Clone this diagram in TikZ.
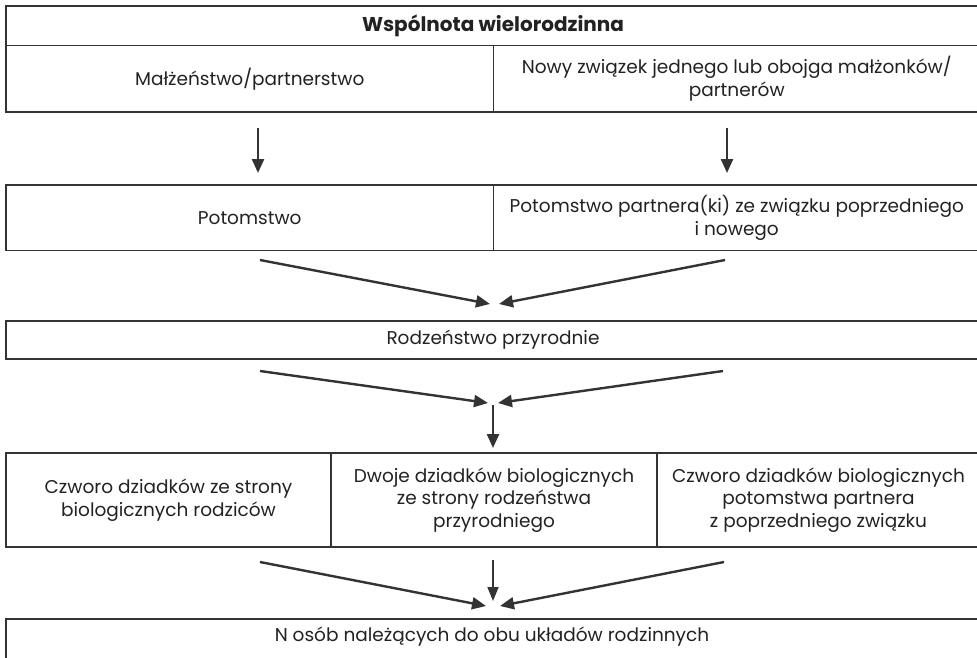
\documentclass[tikz,border=0pt]{standalone}
\usepackage{fontspec}
\setmainfont{Poppins}
\usetikzlibrary{arrows.meta}
\definecolor{linec}{HTML}{333333}
\definecolor{textc}{HTML}{222222}
\tikzset{
  cell/.style={draw=linec, line width=1.2pt, text=textc, align=center, inner sep=0pt,
    font=\fontsize{18.5}{22.8}\selectfont},
  arr/.style={draw=linec, line width=2.4pt, -{Triangle[length=14pt,width=12pt]}},
  arrthin/.style={draw=linec, line width=1.8pt, -{Triangle[length=14pt,width=11pt]}},
}
\newcommand{\cellbox}[6]{% name, x1, y1, x2, y2, text
  \node[cell, minimum width={#4-#2}, minimum height={#5-#3}] (#1) at ({(#2+#4)/2},{(#3+#5)/2}) {#6};}
\begin{document}
\begin{tikzpicture}[x=1pt,y=-1pt]
\useasboundingbox (0,0) rectangle (977,658);
\clip (0,0) rectangle (977,658);
\fill[white] (0,0) rectangle (977,658);
% row 1
\cellbox{title}{6}{6}{980}{45.5}{\fontsize{20}{22}\selectfont\textbf{Wspólnota wielorodzinna}}
% row 2
\cellbox{marr}{6}{45.5}{493.5}{112}{Małżeństwo/partnerstwo}
\cellbox{nowy}{493.5}{45.5}{980}{112}{Nowy związek jednego lub obojga małżonków/\\partnerów}
% row 3
\cellbox{pot}{6}{185}{493.5}{250.5}{Potomstwo}
\cellbox{potp}{493.5}{185}{980}{250.5}{Potomstwo partnera(ki) ze związku poprzedniego\\i nowego}
% row 4
\cellbox{rodz}{6}{321}{980}{359}{Rodzeństwo przyrodnie}
% row 5
\cellbox{dz1}{6}{453}{331}{547}{Czworo dziadków ze strony\\biologicznych rodziców}
\cellbox{dz2}{331}{453}{657}{547}{Dwoje dziadków biologicznych\\ze strony rodzeństwa\\przyrodniego}
\cellbox{dz3}{657}{453}{980}{547}{Czworo dziadków biologicznych\\potomstwa partnera\\z poprzedniego związku}
% row 6
\cellbox{nos}{6}{619}{980}{672}{}
\node[text=textc, font=\fontsize{18.5}{22.5}\selectfont] (nostext) at (492,637) {N osób należących do obu układów rodzinnych};
% arrow coordinates
\coordinate (a1s) at (258,128);
\coordinate (a1e) at (258,173);
\coordinate (a2s) at (727,128);
\coordinate (a2e) at (727,173);
\coordinate (b1s) at (260,260);
\coordinate (b1e) at (490,304);
\coordinate (b2s) at (725,260);
\coordinate (b2e) at (499,304);
\coordinate (c1s) at (260,371);
\coordinate (c1e) at (488,403);
\coordinate (c2s) at (723,371);
\coordinate (c2e) at (498,403);
\coordinate (c3s) at (493,405);
\coordinate (c3e) at (493,448);
\coordinate (d1s) at (260,562);
\coordinate (d1e) at (486,606);
\coordinate (d2s) at (493,560);
\coordinate (d2e) at (493,601);
\coordinate (d3s) at (724,562);
\coordinate (d3e) at (500,606);
\draw[arr] (a1s) -- (a1e);
\draw[arr] (a2s) -- (a2e);
\draw[arr] (b1s) -- (b1e);
\draw[arr] (b2s) -- (b2e);
\draw[arr] (c1s) -- (c1e);
\draw[arr] (c2s) -- (c2e);
\draw[arr] (c3s) -- (c3e);
\draw[arr] (d1s) -- (d1e);
\draw[arrthin] (d2s) -- (d2e);
\draw[arr] (d3s) -- (d3e);
\end{tikzpicture}
\end{document}
